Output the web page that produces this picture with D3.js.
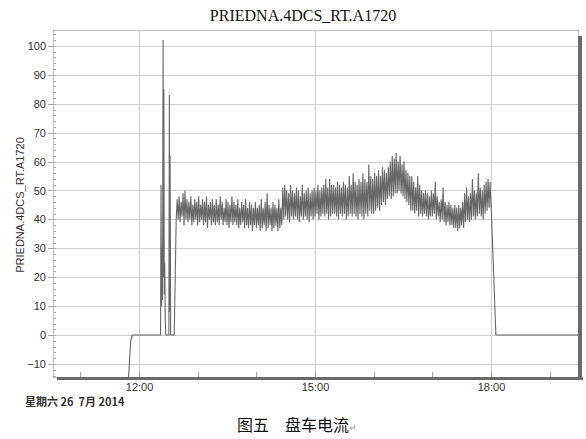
<!DOCTYPE html>
<meta charset="utf-8">
<title>PRIEDNA.4DCS_RT.A1720</title>
<style>

body {
  margin: 0px;
  background: #fff;
}

svg {
  display: block;
  font-family: "Liberation Sans", Arial, sans-serif;
}

.grid line {
  stroke: #cfcfcf;
  stroke-width: 1px;
  shape-rendering: crispEdges;
}

.grid path, .axis path, .minor path {
  display: none;
}

.axis text {
  font-size: 11px;
  fill: #333;
}

.axis line, .minor line {
  stroke: #a8a8a8;
  shape-rendering: crispEdges;
}

.trace {
  fill: none;
  stroke: #676767;
  stroke-width: 1.1px;
}

</style>

<script src="https://d3js.org/d3.v7.min.js"></script>

<body>
<script>

var width = 586, height = 439;

// plot box
var x0 = 53, x1 = 579, y0 = 30, y1 = 377;

// ---- data ----
var day = "2014-07-26";

// start-up: drop-in from below, the breakaway spikes, then the climb to load
var startTimes = ["11:49:00", "11:51:30", "11:53:00", "12:22:00", "12:22:30", "12:23:00",
                  "12:23:30", "12:24:00", "12:24:36", "12:25:00", "12:25:24", "12:25:48",
                  "12:26:18", "12:26:48", "12:27:24", "12:30:30", "12:31:00", "12:31:24",
                  "12:31:48", "12:32:18", "12:36:00", "12:37:00", "12:38:00"];
var startValues = [-16, -2, 0, 0, 52, 10,
                   30, 12, 102, 20, 85, 14,
                   25, 5, 0, 0, 83, 8,
                   62, 0, 0, 20, 40];

// turning current: high and low reading of each 2-minute slot from 12:39
var bandStart = "12:39:00";
var bandStepMinutes = 2;
var bandHigh = [
  47, 48, 46, 49, 50, 47, 46, 48, 45, 47,
  46, 48, 45, 47, 46, 48, 45, 46, 47, 45,
  47, 45, 48, 46, 44, 47, 46, 45, 48, 46,
  45, 47, 44, 46, 45, 47, 44, 46, 45, 44,
  46, 44, 45, 47, 44, 46, 49, 45, 44, 46,
  45, 44, 47, 44, 51, 52, 50, 49, 52, 50,
  49, 51, 50, 48, 52, 49, 50, 51, 49, 50,
  51, 50, 52, 50, 51, 52, 54, 51, 54, 52,
  52, 51, 53, 52, 51, 53, 52, 51, 55, 52,
  56, 53, 52, 54, 53, 56, 54, 53, 59, 55,
  54, 56, 55, 57, 55, 58, 57, 56, 58, 60,
  62, 61, 63, 60, 62, 59, 60, 57, 56, 55,
  55, 53, 51, 55, 52, 50, 49, 50, 49, 48,
  50, 49, 53, 48, 46, 47, 51, 46, 45, 46,
  45, 44, 45, 44, 45, 44, 46, 49, 51, 48,
  49, 54, 50, 49, 56, 51, 50, 52, 53, 54,
  53
];
var bandLow = [
  40, 39, 41, 38, 40, 39, 40, 38, 39, 40,
  38, 39, 40, 38, 39, 37, 40, 38, 39, 38,
  39, 38, 40, 38, 39, 38, 37, 39, 38, 39,
  38, 37, 38, 39, 37, 38, 37, 38, 36, 38,
  37, 38, 36, 37, 38, 36, 37, 38, 36, 37,
  38, 36, 37, 38, 40, 41, 40, 39, 41, 40,
  41, 40, 39, 41, 40, 41, 40, 39, 41, 40,
  41, 42, 40, 41, 42, 41, 42, 40, 41, 42,
  42, 41, 40, 42, 41, 42, 40, 41, 42, 41,
  42, 41, 40, 42, 41, 40, 42, 41, 43, 42,
  42, 43, 44, 43, 45, 46, 45, 47, 48, 47,
  48, 49, 49, 50, 49, 48, 47, 46, 45, 43,
  43, 42, 43, 41, 42, 41, 42, 41, 40, 41,
  41, 42, 40, 41, 39, 40, 39, 38, 39, 38,
  38, 37, 37, 36, 37, 38, 37, 39, 40, 39,
  40, 41, 40, 41, 42, 41, 40, 42, 43, 44,
  44
];

// shut-down
var endTimes = ["18:00:00", "18:05:00", "19:30:00"];
var endValues = [46, 0, 0];

var yTicks = [-10, 0, 10, 20, 30, 40, 50, 60, 70, 80, 90, 100];
var xTickLabels = ["12:00", "15:00", "18:00"];

var titleText = "PRIEDNA.4DCS_RT.A1720";
var yLabel = "PRIEDNA.4DCS_RT.A1720";
var dateLabel = "星期六 26\u00a0 7月 2014";
var captionFig = "图五";
var captionText = "盘车电流";

// ---- build the series ----
var parse = d3.timeParse("%Y-%m-%d %H:%M:%S");
var series = [];
startTimes.forEach(function(t, i) {
  series.push({t: parse(day + " " + t), v: startValues[i]});
});
var t0 = parse(day + " " + bandStart);
bandHigh.forEach(function(v, i) {
  var t = d3.timeMinute.offset(t0, i * bandStepMinutes);
  series.push({t: t, v: v});
  series.push({t: d3.timeMinute.offset(t, bandStepMinutes / 2), v: bandLow[i]});
});
endTimes.forEach(function(t, i) {
  series.push({t: parse(day + " " + t), v: endValues[i]});
});

var x = d3.scaleTime()
    .domain([parse(day + " 10:32:00"), parse(day + " 19:30:00")])
    .range([x0, x1]);

var y = d3.scaleLinear()
    .domain([-14.5, 105.5])
    .range([y1, y0]);

var svg = d3.select("body").append("svg")
    .attr("width", width)
    .attr("height", height);

svg.append("rect")
    .attr("width", width).attr("height", height)
    .attr("fill", "#fff");

// Title
svg.append("text")
    .attr("x", 303)
    .attr("y", 21)
    .style("font-family", "'Liberation Serif', 'Times New Roman', serif")
    .style("font-size", "16px")
    .style("text-anchor", "middle")
    .attr("fill", "#111")
    .text(titleText);

svg.append("clipPath").attr("id", "plot")
  .append("rect")
    .attr("x", x0).attr("y", y0)
    .attr("width", x1 - x0).attr("height", y1 - y0);

// gridlines
var xGridTimes = xTickLabels.map(function(s) { return parse(day + " " + s + ":00"); });

svg.append("g")
    .attr("class", "grid")
    .attr("transform", "translate(" + x0 + ",0)")
    .call(d3.axisLeft(y).tickValues(yTicks).tickSize(-(x1 - x0)).tickFormat(""));

svg.append("g")
    .attr("class", "grid")
    .attr("transform", "translate(0," + y1 + ")")
    .call(d3.axisBottom(x).tickValues(xGridTimes).tickSize(-(y1 - y0)).tickFormat(""));

// plot frame with its dark shadow on the right and bottom
svg.append("rect")
    .attr("x", x0 + 0.5).attr("y", y0 + 0.5)
    .attr("width", x1 - x0 - 1).attr("height", y1 - y0)
    .attr("fill", "none")
    .attr("stroke", "#c4c4c4");

svg.append("rect")
    .attr("x", x1 - 1).attr("y", y0 + 6)
    .attr("width", 4).attr("height", y1 - y0 - 3)
    .attr("fill", "#6a6a6a");

svg.append("rect")
    .attr("x", x0 + 4).attr("y", y1)
    .attr("width", x1 - x0).attr("height", 3)
    .attr("fill", "#6a6a6a");

// minor ticks
svg.append("g")
    .attr("class", "minor")
    .attr("transform", "translate(" + x0 + ",0)")
    .call(d3.axisLeft(y).tickValues(d3.range(-14, 105, 2)).tickSize(-3).tickFormat(""));

svg.append("g")
    .attr("class", "minor")
    .attr("transform", "translate(0," + y1 + ")")
    .call(d3.axisBottom(x).ticks(d3.timeHour.every(1)).tickSize(-5).tickFormat(""));

// y axis labels
svg.append("g")
    .attr("class", "axis")
    .attr("transform", "translate(" + x0 + ",0)")
    .call(d3.axisLeft(y).tickValues(yTicks).tickSize(5).tickPadding(2));

// x axis labels
svg.append("g")
    .attr("class", "axis")
    .attr("transform", "translate(0," + y1 + ")")
    .call(d3.axisBottom(x).tickValues(xGridTimes).tickSize(0).tickPadding(6)
      .tickFormat(function(d, i) { return xTickLabels[i]; }));

// trace
var line = d3.line()
    .x(function(d) { return x(d.t); })
    .y(function(d) { return y(d.v); });

svg.append("path")
    .datum(series)
    .attr("class", "trace")
    .attr("clip-path", "url(#plot)")
    .attr("d", line);

// y label
svg.append("text")
    .attr("transform", "translate(24," + 205 + ") rotate(-90)")
    .style("font-size", "11px")
    .style("text-anchor", "middle")
    .attr("fill", "#333")
    .text(yLabel);

// date under the axis
svg.append("text")
    .attr("x", 25)
    .attr("y", 406)
    .style("font-family", "'Noto Sans CJK SC', sans-serif")
    .style("font-size", "11px")
    .style("font-weight", "bold")
    .attr("fill", "#333")
    .text(dateLabel);

// caption
var cap = svg.append("text")
    .attr("y", 431)
    .style("font-family", "'Noto Sans CJK SC', sans-serif")
    .style("font-size", "16px")
    .attr("fill", "#111");
cap.append("tspan").attr("x", 237).text(captionFig);
cap.append("tspan").attr("x", 285).text(captionText);
cap.append("tspan")
    .style("font-size", "9px")
    .attr("fill", "#999")
    .text("↵");

</script>
